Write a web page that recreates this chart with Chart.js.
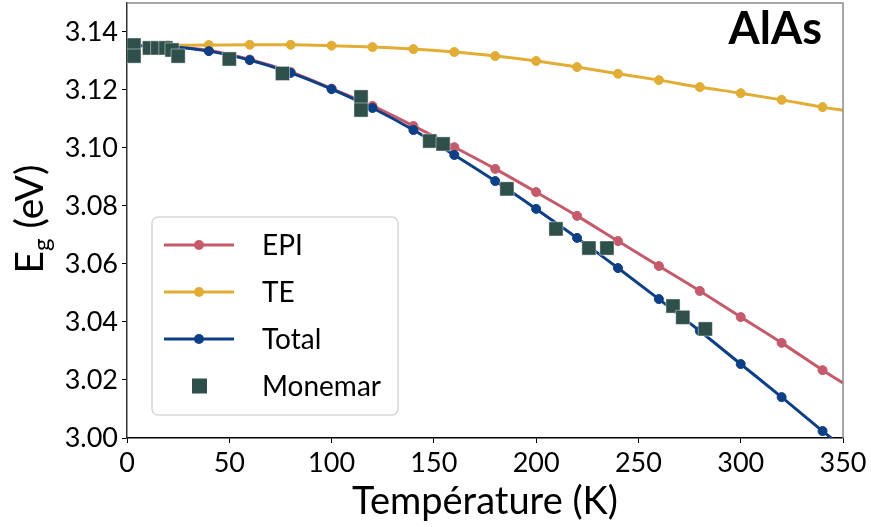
<!DOCTYPE html>
<html>
<head>
<meta charset="utf-8">
<script src="https://cdn.jsdelivr.net/npm/chart.js@4.4.1/dist/chart.umd.min.js"></script>
<style>
    html, body { margin: 0; padding: 0; background: #fff; }
    #wrap { width: 871px; height: 527px; position: relative; }
</style>
</head>
<body>
<div id="wrap"><canvas id="chart"></canvas></div>
<script>
// Temperatures (K) where the calculated curves carry markers
const markerTemps = [0, 20, 40, 60, 80, 100, 120, 140, 160, 180, 200, 220, 240, 260, 280, 300, 320, 340];
const lineEndTemp = 350;

// Band gap E_g (eV)
const epiValues = [3.1353, 3.1350, 3.1336, 3.1305, 3.1262, 3.1205, 3.1145, 3.1076, 3.1003, 3.0928, 3.0848, 3.0766, 3.0679, 3.0593, 3.0507, 3.0417, 3.0328, 3.0234];
const epiEnd = 3.0190;
const teValues = [3.1353, 3.1354, 3.1355, 3.1356, 3.1356, 3.1353, 3.1348, 3.1341, 3.1331, 3.1317, 3.1300, 3.1279, 3.1256, 3.1234, 3.1210, 3.1189, 3.1166, 3.1141];
const teEnd = 3.1130;
const totalValues = [3.1353, 3.1350, 3.1334, 3.1303, 3.1259, 3.1203, 3.1138, 3.1062, 3.0976, 3.0886, 3.0790, 3.0690, 3.0586, 3.0479, 3.0369, 3.0255, 3.0141, 3.0024];
const totalEnd = 2.9967;

// Monemar experimental points
const monemarTemps = [3.4, 3.4, 11, 15, 19, 22, 25, 50, 76, 114.4, 114.4, 148, 154.5, 185.7, 209.7, 225.8, 234.6, 266.9, 271.7, 282.7];
const monemarValues = [3.1355, 3.1317, 3.1345, 3.1345, 3.1345, 3.1338, 3.1317, 3.1307, 3.1257, 3.1176, 3.1131, 3.1024, 3.1014, 3.0859, 3.0721, 3.0655, 3.0655, 3.0455, 3.0416, 3.0376];

const xTicks = [0, 50, 100, 150, 200, 250, 300, 350];
const yTicks = [3.00, 3.02, 3.04, 3.06, 3.08, 3.10, 3.12, 3.14];

const FONT = 'Lato, "DejaVu Sans", sans-serif';
const COLORS = { epi: '#c45a6a', te: '#e2ad35', total: '#0d3f86', monemar: '#2f4f4a' };

const curve = (vals, end) => markerTemps.map((t, i) => ({ x: t, y: vals[i] })).concat({ x: lineEndTemp, y: end });
const hideLast = ctx => (ctx.dataIndex === markerTemps.length ? 0 : 4.5);

function lineSet(label, vals, end, color, order) {
    return {
        type: 'line',
        label,
        data: curve(vals, end),
        borderColor: color,
        backgroundColor: color,
        borderWidth: 3,
        pointRadius: hideLast,
        pointBorderWidth: 1,
        pointBorderColor: color,
        cubicInterpolationMode: 'monotone',
        fill: false,
        order,
    };
}

// legend box drawn inside the plot
const insideLegend = {
    id: 'insideLegend',
    afterDraw(chart) {
        const ctx = chart.ctx;
        const x0 = 152, y0 = 217, w = 246, h = 198, r = 6;
        ctx.save();
        ctx.fillStyle = 'rgba(255,255,255,0.85)';
        ctx.strokeStyle = '#d6d6d6';
        ctx.lineWidth = 1.5;
        ctx.beginPath();
        ctx.roundRect(x0, y0, w, h, r);
        ctx.fill();
        ctx.stroke();

        const rows = chart.data.datasets.slice().sort((a, b) => b.order - a.order);
        ctx.font = `28px ${FONT}`;
        ctx.textBaseline = 'middle';
        ctx.textAlign = 'left';
        rows.forEach((ds, i) => {
            const y = 245 + i * 47;
            if (ds.type === 'line') {
                ctx.strokeStyle = ds.borderColor;
                ctx.lineWidth = 3;
                ctx.beginPath();
                ctx.moveTo(164, y);
                ctx.lineTo(234, y);
                ctx.stroke();
                ctx.fillStyle = ds.borderColor;
                ctx.beginPath();
                ctx.arc(199, y, 5, 0, Math.PI * 2);
                ctx.fill();
            } else {
                ctx.fillStyle = ds.backgroundColor;
                ctx.fillRect(192, y - 7.5, 15, 15);
            }
            ctx.fillStyle = '#000';
            ctx.fillText(ds.label, 262, y + 1);
        });
        ctx.restore();
    },
};

// y title with subscript, material label, grey top/right frame
const decorations = {
    id: 'decorations',
    afterDraw(chart) {
        const ctx = chart.ctx;
        const a = chart.chartArea;
        ctx.save();
        ctx.strokeStyle = '#8a8a8a';
        ctx.lineWidth = 1.5;
        ctx.beginPath();
        ctx.moveTo(a.left, a.top);
        ctx.lineTo(a.right, a.top);
        ctx.lineTo(a.right, a.bottom);
        ctx.stroke();

        ctx.fillStyle = '#000';
        ctx.font = `bold 45px ${FONT}`;
        ctx.textAlign = 'right';
        ctx.textBaseline = 'alphabetic';
        ctx.fillText('AlAs', 822, 44);

        ctx.translate(43, 219);
        ctx.rotate(-Math.PI / 2);
        ctx.textAlign = 'left';
        const big = `39px ${FONT}`;
        const small = `24px ${FONT}`;
        ctx.font = big;
        const wE = ctx.measureText('E').width;
        ctx.font = small;
        const wg = ctx.measureText('g').width;
        ctx.font = big;
        const wRest = ctx.measureText(' (eV)').width;
        let x = -(wE + wg + wRest) / 2;
        ctx.fillText('E', x, 0);
        x += wE;
        ctx.font = small;
        ctx.fillText('g', x, 7);
        x += wg;
        ctx.font = big;
        ctx.fillText(' (eV)', x, 0);
        ctx.restore();
    },
};

new Chart(document.getElementById('chart').getContext('2d'), {
    data: {
        datasets: [
            lineSet('EPI', epiValues, epiEnd, COLORS.epi, 3),
            lineSet('TE', teValues, teEnd, COLORS.te, 2),
            lineSet('Total', totalValues, totalEnd, COLORS.total, 1),
            {
                type: 'scatter',
                label: 'Monemar',
                data: monemarTemps.map((t, i) => ({ x: t, y: monemarValues[i] })),
                pointStyle: 'rect',
                pointRadius: 10,
                backgroundColor: COLORS.monemar,
                borderColor: 'rgba(255,255,255,0.45)',
                borderWidth: 1,
                order: 0,
            },
        ],
    },
    options: {
        responsive: true,
        maintainAspectRatio: false,
        animation: false,
        events: [],
        layout: { autoPadding: false, padding: { top: 3, right: 28, left: 0, bottom: 0 } },
        plugins: { legend: { display: false }, tooltip: { enabled: false } },
        scales: {
            x: {
                type: 'linear',
                min: 0,
                max: 350,
                afterBuildTicks: s => { s.ticks = xTicks.map(v => ({ value: v })); },
                afterFit: s => { s.height = 89; s.paddingLeft = 0; s.paddingRight = 0; },
                ticks: { color: '#000', font: { family: FONT, size: 27 }, padding: 4, maxRotation: 0, callback: v => String(v) },
                grid: { drawOnChartArea: false, drawTicks: true, tickLength: 5, color: '#000', tickWidth: 1 },
                border: { color: '#000', width: 1.5 },
                title: { display: true, text: 'Température (K)', color: '#000', font: { family: FONT, size: 38 }, padding: { top: 0, bottom: 2 } },
            },
            y: {
                type: 'linear',
                min: 3.00,
                max: 3.15,
                afterBuildTicks: s => { s.ticks = yTicks.map(v => ({ value: v })); },
                afterFit: s => { s.width = 127; s.paddingTop = 0; s.paddingBottom = 0; },
                ticks: { color: '#000', font: { family: FONT, size: 27 }, padding: 4, callback: v => Number(v).toFixed(2) },
                grid: { drawOnChartArea: false, drawTicks: true, tickLength: 5, color: '#000', tickWidth: 1 },
                border: { color: '#333', width: 1.5 },
            },
        },
    },
    plugins: [insideLegend, decorations],
});
</script>
</body>
</html>
